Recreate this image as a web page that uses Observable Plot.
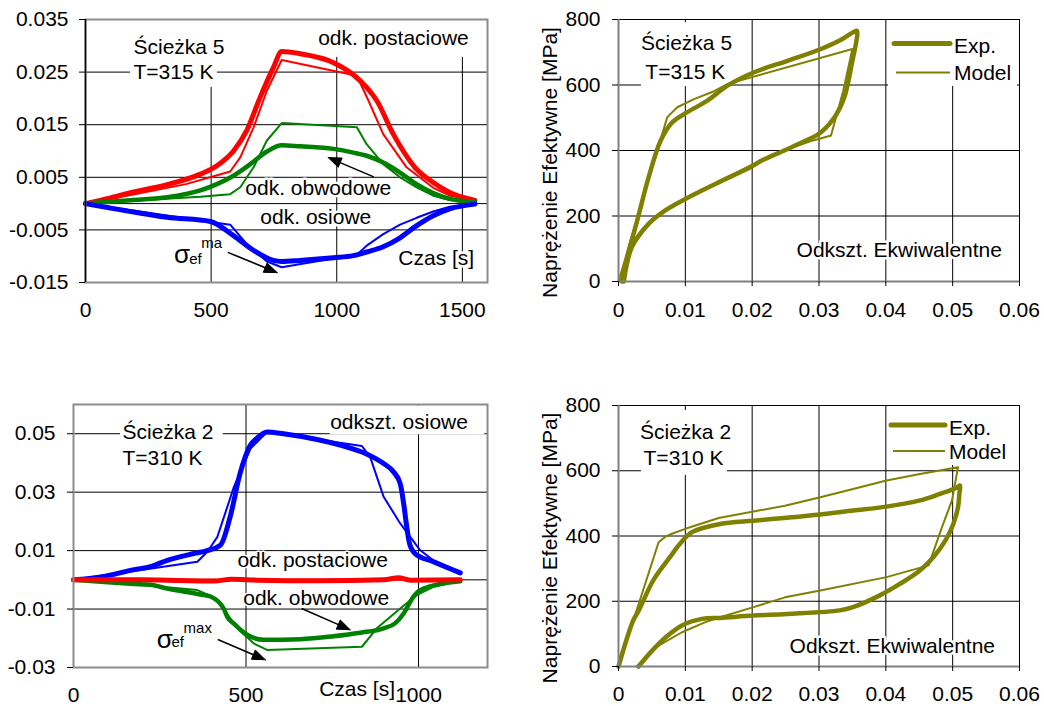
<!DOCTYPE html>
<html><head><meta charset="utf-8">
<script src="https://cdn.jsdelivr.net/npm/d3@7"></script>
<script src="https://cdn.jsdelivr.net/npm/@observablehq/plot@0.6"></script>
<style>
body{margin:0;background:#fff;font-family:"Liberation Sans",Arial,Helvetica,sans-serif;}
#chart{position:relative;width:1044px;height:706px;overflow:hidden;background:#fff;}
.legend{position:absolute;background:#fff;}
</style></head><body><div id="chart"></div>
<script>
// ---------- Ścieżka 5, T=315 K : strains vs time ----------
const p5TimeTicks = [0, 500, 1000, 1500];
const p5TimeGrid = [500, 1000, 1500];
const p5StrainTicks = [-0.015, -0.005, 0.005, 0.015, 0.025, 0.035];
const p5StrainGrid = [-0.005, 0.005, 0.015, 0.025];

const p5TimePostExp = [0, 100, 192, 325, 457, 523, 589, 642, 695, 748, 781, 854, 987, 1066, 1119, 1159, 1225, 1311, 1384, 1450, 1550];
const p5PostExp = [0, 0.0011, 0.0022, 0.0036, 0.0056, 0.0072, 0.0100, 0.0139, 0.0202, 0.0259, 0.0289, 0.0285, 0.0268, 0.0245, 0.0221, 0.0196, 0.0132, 0.0069, 0.0040, 0.0021, 0.0006];
const p5TimePostMod = [0, 200, 400, 576, 616, 669, 722, 781, 1080, 1126, 1185, 1278, 1384, 1450, 1550];
const p5PostMod = [0, 0.0018, 0.0037, 0.0061, 0.0088, 0.0145, 0.0215, 0.0273, 0.0243, 0.0196, 0.0132, 0.0069, 0.0030, 0.0015, 0.0006];

const p5TimeObwExp = [0, 192, 325, 457, 523, 589, 656, 722, 781, 854, 987, 1066, 1119, 1185, 1252, 1318, 1384, 1450, 1550];
const p5ObwExp = [0, 0.0007, 0.0012, 0.0025, 0.0037, 0.0053, 0.0075, 0.0099, 0.0111, 0.0109, 0.0104, 0.0097, 0.0091, 0.0078, 0.0059, 0.0037, 0.0020, 0.0009, 0.0003];
const p5TimeObwMod = [0, 457, 576, 616, 669, 722, 781, 1080, 1119, 1185, 1252, 1318, 1384, 1450, 1550];
const p5ObwMod = [0, 0.0013, 0.0018, 0.0031, 0.0069, 0.0120, 0.0153, 0.0145, 0.0113, 0.0075, 0.0050, 0.0031, 0.0015, 0.0007, 0.0003];

const p5TimeOsExp = [0, 192, 325, 497, 589, 669, 748, 781, 854, 987, 1066, 1119, 1185, 1252, 1318, 1384, 1450, 1550];
const p5OsExp = [0, -0.0016, -0.0026, -0.0034, -0.0061, -0.0089, -0.0108, -0.0110, -0.0108, -0.0103, -0.0099, -0.0092, -0.0082, -0.0065, -0.0042, -0.0023, -0.0010, -0.0001];
const p5TimeOsMod = [0, 457, 576, 642, 722, 781, 1080, 1119, 1185, 1252, 1318, 1384, 1450, 1550];
const p5OsMod = [0, -0.0032, -0.0040, -0.0077, -0.0110, -0.0121, -0.0097, -0.0080, -0.0058, -0.0040, -0.0027, -0.0015, -0.0006, -0.0001];

// ---------- Ścieżka 5 : stress vs equivalent strain ----------
const eqStrainTicks = [0, 0.01, 0.02, 0.03, 0.04, 0.05, 0.06];
const eqStrainGrid = [0.01, 0.02, 0.03, 0.04, 0.05, 0.06];
const stressTicks = [0, 200, 400, 600, 800];
const stressGrid = [200, 400, 600, 800];

const p5StrainExp = [0.0005, 0.0015, 0.0028, 0.0045, 0.0063, 0.0080, 0.0103, 0.0133, 0.0163, 0.0203, 0.0253, 0.0303, 0.0333, 0.0352, 0.0357, 0.0356, 0.0350, 0.0338, 0.0325, 0.0303, 0.0278, 0.0248, 0.0215, 0.0200, 0.0145, 0.0100, 0.0070, 0.0045, 0.0020, 0.0008];
const p5StressExp = [0, 90, 186, 318, 430, 485, 517, 552, 598, 639, 674, 710, 738, 762, 765, 735, 674, 563, 507, 456, 428, 400, 370, 352, 298, 252, 217, 176, 105, 0];
const p5StrainMod = [0, 0.0073, 0.0088, 0.0113, 0.0143, 0.0163, 0.0350, 0.0336, 0.0318, 0.0290, 0.0253, 0.0203, 0.0153, 0.0103, 0.0070, 0.0045, 0.0020, 0.0005];
const p5StressMod = [0, 502, 532, 557, 581, 603, 710, 580, 446, 430, 404, 360, 308, 255, 215, 175, 105, 0];

// ---------- Ścieżka 2, T=310 K : strains vs time ----------
const p2TimeTicks = [0, 500, 1000];
const p2TimeGrid = [500, 1000];
const p2StrainTicks = [-0.03, -0.01, 0.01, 0.03, 0.05];
const p2StrainGrid = [-0.01, 0.01, 0.03, 0.05];

const p2TimeOsExp = [0, 79, 176, 223, 272, 349, 387, 426, 455, 483, 512, 532, 561, 609, 706, 802, 851, 899, 928, 947, 957, 966, 974, 990, 1043, 1121];
const p2OsExp = [0, 0.0010, 0.0035, 0.0045, 0.0067, 0.0090, 0.0100, 0.0119, 0.0220, 0.0365, 0.0460, 0.0485, 0.0506, 0.0500, 0.0480, 0.0451, 0.0430, 0.0398, 0.0369, 0.0329, 0.0261, 0.0181, 0.0124, 0.0090, 0.0062, 0.0024];
const p2TimeOsMod = [0, 176, 359, 388, 417, 465, 513, 561, 836, 860, 899, 947, 976, 1005, 1043, 1121];
const p2OsMod = [0, 0.0030, 0.0062, 0.0096, 0.0147, 0.0318, 0.0449, 0.0506, 0.0458, 0.0420, 0.0284, 0.0193, 0.0147, 0.0101, 0.0067, 0.0027];

const p2TimePostExp = [0, 200, 407, 458, 532, 706, 900, 942, 976, 1121];
const p2PostExp = [0, 0, -0.0004, 0.0002, -0.0001, -0.0003, 0, 0.0007, -0.0001, 0];
const p2TimePostMod = [0, 561, 836, 1121];
const p2PostMod = [0, 0, 0, 0];

const p2TimeObwExp = [0, 79, 176, 223, 272, 368, 397, 436, 445, 465, 503, 551, 658, 754, 831, 899, 932, 957, 985, 1014, 1121];
const p2ObwExp = [0, -0.0007, -0.0014, -0.0017, -0.0030, -0.0050, -0.0057, -0.0100, -0.0125, -0.0150, -0.0188, -0.0205, -0.0203, -0.0193, -0.0181, -0.0166, -0.0149, -0.0115, -0.0058, -0.0030, -0.0005];
const p2TimeObwMod = [0, 223, 359, 407, 436, 474, 523, 561, 836, 879, 947, 995, 1043, 1121];
const p2ObwMod = [0, -0.0020, -0.0035, -0.0060, -0.0100, -0.0165, -0.0218, -0.0240, -0.0229, -0.0166, -0.0098, -0.0052, -0.0024, -0.0003];

// ---------- Ścieżka 2 : stress vs equivalent strain ----------
const p2StrainExp = [0, 0.0022, 0.0030, 0.0052, 0.0077, 0.0092, 0.0110, 0.0152, 0.0202, 0.0252, 0.0302, 0.0351, 0.0401, 0.0451, 0.0481, 0.0506, 0.0511, 0.0510, 0.0508, 0.0501, 0.0489, 0.0471, 0.0451, 0.0421, 0.0391, 0.0351, 0.0331, 0.0252, 0.0202, 0.0152, 0.0125, 0.0095, 0.0072, 0.0050, 0.0030];
const p2StressExp = [0, 141, 170, 264, 335, 376, 412, 437, 447, 456, 466, 478, 490, 509, 529, 548, 555, 530, 488, 437, 386, 335, 294, 253, 218, 182, 172, 161, 156, 149, 146, 126, 92, 48, 0];
const p2StrainMod = [0, 0.0060, 0.0070, 0.0080, 0.0100, 0.0150, 0.0249, 0.0302, 0.0351, 0.0401, 0.0451, 0.0508, 0.0499, 0.0484, 0.0464, 0.0401, 0.0302, 0.0249, 0.0202, 0.0152, 0.0130, 0.0095, 0.0060, 0.0027];
const p2StressMod = [0, 381, 398, 407, 422, 455, 493, 519, 544, 570, 590, 611, 509, 427, 310, 274, 233, 212, 182, 151, 136, 105, 64, 0];

// ---------- rendering ----------
const FONT = '"Liberation Sans", Arial, Helvetica, sans-serif';
const RED = "#ff0000", GREEN = "#008000", BLUE = "#0000ff", OLIVE = "#808000";
const chart = document.getElementById("chart");
const pts = (xs, ys) => xs.map((x, i) => ({x, y: ys[i]}));
const fmt = d => String(d);
const baseStyle = {fontFamily: FONT, fontSize: "21px", color: "black", background: "white", overflow: "visible"};
const lbl = {fill: "black", stroke: "white", strokeWidth: 5, paintOrder: "stroke", fontSize: 21, textAnchor: "start"};
const grid = {stroke: "black", strokeOpacity: 1, strokeWidth: 1};
const thick = w => ({x: "x", y: "y", strokeWidth: w, strokeLinejoin: "round", strokeLinecap: "round"});

// Annotation arrow with a filled head; kx, ky = pixels per data unit of the panel.
function arrowMarks(x1, y1, x2, y2, kx, ky) {
  const X1 = x1 * kx, Y1 = -y1 * ky, X2 = x2 * kx, Y2 = -y2 * ky;
  const len = Math.hypot(X2 - X1, Y2 - Y1), ux = (X2 - X1) / len, uy = (Y2 - Y1) / len;
  const L = 13, W = 5;
  const BX = X2 - ux * L, BY = Y2 - uy * L;
  const back = (X, Y) => ({x: X / kx, y: -Y / ky});
  const head = [back(X2, Y2), back(BX - uy * W, BY + ux * W), back(BX + uy * W, BY - ux * W), back(X2, Y2)];
  const shaft = [back(X1, Y1), back(BX + ux * 2, BY + uy * 2)];
  return [
    Plot.line(shaft, {x: "x", y: "y", stroke: "black", strokeWidth: 1.6}),
    Plot.line(head, {x: "x", y: "y", stroke: "black", strokeWidth: 1, fill: "black", strokeLinejoin: "miter"})
  ];
}

function mount(svg, left, top) {
  svg.style.position = "absolute";
  svg.style.left = left + "px";
  svg.style.top = top + "px";
  chart.appendChild(svg);
}

// Panel 1
const k1x = 402 / 1600, k1y = 263 / 0.05;
mount(Plot.plot({
  width: 520, height: 345, marginLeft: 85, marginRight: 33, marginTop: 19, marginBottom: 63,
  x: {domain: [0, 1600]}, y: {domain: [-0.015, 0.035]},
  style: baseStyle,
  marks: [
    Plot.gridX(p5TimeGrid, grid),
    Plot.gridY(p5StrainGrid, grid),
    Plot.ruleY([0], {stroke: "black"}),
    Plot.rect([0], {x1: 179, x2: 525, y1: 0.0221, y2: 0.035, fill: "white"}),
    Plot.rect([0], {x1: 912, x2: 1580, y1: 0.0278, y2: 0.035, fill: "white"}),
    Plot.line(pts(p5TimePostExp, p5PostExp), {...thick(5), stroke: RED, curve: "monotone-x"}),
    Plot.line(pts(p5TimePostMod, p5PostMod), {...thick(2), stroke: RED}),
    Plot.line(pts(p5TimeObwExp, p5ObwExp), {...thick(4.5), stroke: GREEN, curve: "monotone-x"}),
    Plot.line(pts(p5TimeObwMod, p5ObwMod), {...thick(2), stroke: GREEN}),
    Plot.line(pts(p5TimeOsExp, p5OsExp), {...thick(5), stroke: BLUE, curve: "monotone-x"}),
    Plot.line(pts(p5TimeOsMod, p5OsMod), {...thick(2), stroke: BLUE}),
    Plot.text(["Ścieżka 5"], {x: 191, y: 0.0297, ...lbl}),
    Plot.text(["T=315 K"], {x: 191, y: 0.0249, ...lbl}),
    Plot.text(["odk. postaciowe"], {x: 926, y: 0.0314, ...lbl}),
    Plot.text(["odk. obwodowe"], {x: 636, y: 0.00285, ...lbl}),
    Plot.text(["odk. osiowe"], {x: 696, y: -0.00266, ...lbl}),
    Plot.text(["Czas [s]"], {x: 1245, y: -0.01046, ...lbl}),
    Plot.text(["σ"], {x: 352, y: -0.0097, ...lbl, stroke: null, fontSize: 26}),
    Plot.text(["ef"], {x: 413, y: -0.01065, ...lbl, stroke: null, fontSize: 15}),
    Plot.text(["ma"], {x: 461, y: -0.0076, ...lbl, stroke: null, fontSize: 15}),
    ...arrowMarks(1145, 0.00513, 966, 0.00875, k1x, k1y),
    ...arrowMarks(569, -0.00932, 763, -0.01312, k1x, k1y),
    Plot.frame({stroke: "#8c8c8c", strokeWidth: 2}),
    Plot.ruleX([0], {stroke: "black", strokeWidth: 1.5}),
    Plot.axisY({ticks: p5StrainTicks, tickSize: 6, tickPadding: 11, tickFormat: fmt, label: null}),
    Plot.axisX({ticks: p5TimeTicks, tickSize: 0, tickPadding: 20, tickFormat: fmt, label: null})
  ]
}), 0, 0);

// Panel 2
mount(Plot.plot({
  width: 524, height: 345, marginLeft: 98, marginRight: 25, marginTop: 19, marginBottom: 64,
  x: {domain: [0, 0.06]}, y: {domain: [0, 800]},
  style: baseStyle,
  marks: [
    Plot.gridX(eqStrainGrid, grid),
    Plot.gridY(stressGrid, grid),
    Plot.rect([0], {x1: 0.00344, x2: 0.0163, y1: 595, y2: 790, fill: "white"}),
    Plot.line(pts(p5StrainExp, p5StressExp), {...thick(4.5), stroke: OLIVE, curve: "catmull-rom"}),
    Plot.line(pts(p5StrainMod, p5StressMod), {...thick(2), stroke: OLIVE}),
    Plot.text(["Ścieżka 5"], {x: 0.01018, y: 726, ...lbl, textAnchor: "middle"}),
    Plot.text(["T=315 K"], {x: 0.0100, y: 639, ...lbl, textAnchor: "middle"}),
    Plot.text(["Odkszt. Ekwiwalentne"], {x: 0.02664, y: 95, ...lbl}),
    Plot.text(["Naprężenie Efektywne [MPa]"], {frameAnchor: "left", rotate: -90, dx: -68, dy: 12, fontSize: 21, textAnchor: "middle"}),
    Plot.ruleX([0], {stroke: "#808080", strokeWidth: 2}),
    Plot.ruleY([0], {stroke: "#808080", strokeWidth: 2}),
    Plot.axisY({ticks: stressTicks, tickSize: 6, tickPadding: 12, tickFormat: fmt, label: null}),
    Plot.axisX({ticks: eqStrainTicks, tickSize: 5, tickPadding: 16, tickFormat: fmt, label: null})
  ]
}), 520, 0);

// Panel 3
const k3x = 414 / 1200, k3y = 263 / 0.09;
mount(Plot.plot({
  width: 520, height: 326, marginLeft: 73, marginRight: 33, marginTop: 24, marginBottom: 39,
  x: {domain: [0, 1200]}, y: {domain: [-0.03, 0.06]},
  style: baseStyle,
  marks: [
    Plot.gridX(p2TimeGrid, grid),
    Plot.gridY(p2StrainGrid, grid),
    Plot.ruleY([0], {stroke: "black"}),
    Plot.rect([0], {x1: 136, x2: 434, y1: 0.0376, y2: 0.058, fill: "white"}),
    Plot.rect([0], {x1: 744, x2: 1192, y1: 0.0496, y2: 0.0595, fill: "white"}),
    Plot.line(pts(p2TimeOsExp, p2OsExp), {...thick(5), stroke: BLUE, curve: "monotone-x"}),
    Plot.line(pts(p2TimeOsMod, p2OsMod), {...thick(2), stroke: BLUE}),
    Plot.line(pts(p2TimeObwExp, p2ObwExp), {...thick(4.5), stroke: GREEN, curve: "monotone-x"}),
    Plot.line(pts(p2TimeObwMod, p2ObwMod), {...thick(2), stroke: GREEN}),
    Plot.line(pts(p2TimePostMod, p2PostMod), {...thick(2), stroke: RED}),
    Plot.line(pts(p2TimePostExp, p2PostExp), {...thick(5), stroke: RED, curve: "monotone-x"}),
    Plot.text(["Ścieżka 2"], {x: 142, y: 0.0506, ...lbl}),
    Plot.text(["T=310 K"], {x: 142, y: 0.0417, ...lbl}),
    Plot.text(["odkszt. osiowe"], {x: 744, y: 0.0540, ...lbl}),
    Plot.text(["odk. postaciowe"], {x: 475, y: 0.00684, ...lbl, strokeWidth: 3}),
    Plot.text(["odk. obwodowe"], {x: 492, y: -0.00615, ...lbl, strokeWidth: 3}),
    Plot.text(["σ"], {x: 241, y: -0.0205, ...lbl, stroke: null, fontSize: 26}),
    Plot.text(["ef"], {x: 284, y: -0.0215, ...lbl, stroke: null, fontSize: 15}),
    Plot.text(["max"], {x: 319, y: -0.0167, ...lbl, stroke: null, fontSize: 15}),
    ...arrowMarks(663, -0.00991, 802, -0.01709, k3x, k3y),
    ...arrowMarks(420, -0.0205, 556, -0.02735, k3x, k3y),
    Plot.frame({stroke: "#8c8c8c", strokeWidth: 2}),
    Plot.axisY({ticks: p2StrainTicks, tickSize: 6, tickPadding: 12, tickFormat: fmt, label: null}),
    Plot.axisX({ticks: p2TimeTicks, tickSize: 0, tickPadding: 20, tickFormat: fmt, label: null}),
    Plot.text(["Czas [s]"], {x: 712, frameAnchor: "bottom", dy: 28, fontSize: 21, textAnchor: "start"})
  ]
}), 0, 380);

// Panel 4
mount(Plot.plot({
  width: 524, height: 326, marginLeft: 98, marginRight: 25, marginTop: 25, marginBottom: 40,
  x: {domain: [0, 0.06]}, y: {domain: [0, 800]},
  style: baseStyle,
  marks: [
    Plot.gridX(eqStrainGrid, grid),
    Plot.gridY(stressGrid, grid),
    Plot.rect([0], {x1: 0.00344, x2: 0.0163, y1: 586, y2: 785, fill: "white"}),
    Plot.line(pts(p2StrainExp, p2StressExp), {...thick(4.5), stroke: OLIVE, curve: "catmull-rom"}),
    Plot.line(pts(p2StrainMod, p2StressMod), {...thick(2), stroke: OLIVE}),
    Plot.text(["Ścieżka 2"], {x: 0.01003, y: 719, ...lbl, textAnchor: "middle"}),
    Plot.text(["T=310 K"], {x: 0.00973, y: 637, ...lbl, textAnchor: "middle"}),
    Plot.text(["Odkszt. Ekwiwalentne"], {x: 0.0256, y: 61, ...lbl}),
    Plot.text(["Naprężenie Efektywne [MPa]"], {frameAnchor: "left", rotate: -90, dx: -68, dy: 12, fontSize: 21, textAnchor: "middle"}),
    Plot.ruleX([0], {stroke: "#808080", strokeWidth: 2}),
    Plot.ruleY([0], {stroke: "#808080", strokeWidth: 2}),
    Plot.axisY({ticks: stressTicks, tickSize: 6, tickPadding: 12, tickFormat: fmt, label: null}),
    Plot.axisX({ticks: eqStrainTicks, tickSize: 5, tickPadding: 15, tickFormat: fmt, label: null})
  ]
}), 520, 380);

// Legends (Exp. / Model)
function legend(left, top, w, h, expY, modY, lineX1, lineX2, textX) {
  const div = document.createElement("div");
  div.className = "legend";
  div.style.cssText = `left:${left}px;top:${top}px;width:${w}px;height:${h}px;`;
  div.innerHTML = `<svg width="${w}" height="${h}" style="display:block;font-family:${FONT.replace(/"/g, "'")};font-size:21px">
    <line x1="${lineX1}" x2="${lineX2}" y1="${expY}" y2="${expY}" stroke="${OLIVE}" stroke-width="5" stroke-linecap="round"/>
    <text x="${textX}" y="${expY + 2}" dominant-baseline="central">Exp.</text>
    <line x1="${lineX1 + 2}" x2="${lineX2}" y1="${modY}" y2="${modY}" stroke="${OLIVE}" stroke-width="2"/>
    <text x="${textX}" y="${modY}" dominant-baseline="central">Model</text></svg>`;
  chart.appendChild(div);
}
legend(888, 20, 129, 66, 23.5, 52.5, 6, 62, 66);
legend(887, 406, 130, 59, 19, 45, 4, 58, 62);
</script></body></html>
